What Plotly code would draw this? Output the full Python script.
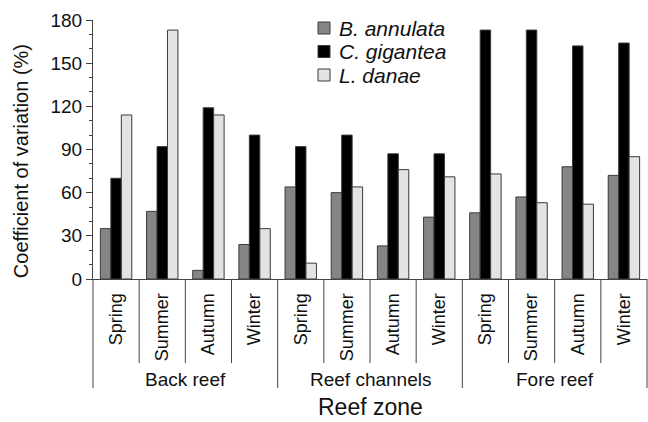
import plotly.graph_objects as go

# Reef zones and seasons (x categories)
zones = ["Back reef", "Reef channels", "Fore reef"]
seasons = ["Spring", "Summer", "Autumn", "Winter"]

# Coefficient of variation (%) per zone x season, in the order above
b_annulata = [35, 47, 6, 24, 64, 60, 23, 43, 46, 57, 78, 72]
c_gigantea = [70, 92, 119, 100, 92, 100, 87, 87, 173, 173, 162, 164]
l_danae = [114, 173, 114, 35, 11, 64, 76, 71, 73, 53, 52, 85]

species = ["B. annulata", "C. gigantea", "L. danae"]
fills = ["#858585", "#000000", "#e3e3e3"]

FONT = "Liberation Sans, Arial, Helvetica, sans-serif"
AXIS_COLOR = "#444444"
EDGE_COLOR = "#3a3a3a"

n_season = len(seasons)
positions = list(range(len(zones) * n_season))
season_labels = [s for _ in zones for s in seasons]

fig = go.Figure()
for name, vals, col in zip(species, [b_annulata, c_gigantea, l_danae], fills):
    fig.add_trace(go.Bar(
        x=positions, y=vals, name=name, showlegend=False,
        marker=dict(color=col, line=dict(color=EDGE_COLOR, width=1)),
    ))

# plot-area size (px) used to express off-axis elements in paper units
W_PLOT, H_PLOT = 554, 259
season_sep = -84 / H_PLOT
zone_sep = -109 / H_PLOT

shapes = []
# separators between seasons (short) and between zones (long)
for b in range(1, len(positions)):
    y1 = zone_sep if b % n_season == 0 else season_sep
    shapes.append(dict(type="line", xref="x", yref="paper", x0=b - 0.5, x1=b - 0.5,
                       y0=0, y1=y1, line=dict(color=AXIS_COLOR, width=1)))
for edge in (0, 1):
    shapes.append(dict(type="line", xref="x domain", yref="paper", x0=edge, x1=edge,
                       y0=0, y1=zone_sep, line=dict(color=AXIS_COLOR, width=1)))

annotations = []
for zi, z in enumerate(zones):
    centre = zi * n_season + (n_season - 1) / 2
    annotations.append(dict(x=centre, xref="x", y=-101 / H_PLOT, yref="paper",
                            text=z, showarrow=False, yanchor="middle",
                            font=dict(family=FONT, size=19, color="#111")))
annotations.append(dict(x=0.5, xref="paper", y=-128 / H_PLOT, yref="paper",
                        text="Reef zone", showarrow=False, yanchor="middle",
                        font=dict(family=FONT, size=23, color="#111")))
annotations.append(dict(x=-72 / W_PLOT, xref="paper", y=0.455, yref="paper",
                        text="Coefficient of variation (%)", textangle=-90,
                        showarrow=False, xanchor="center", yanchor="middle",
                        font=dict(family=FONT, size=20, color="#111")))

# key: filled square + italic species name, stacked top-down
key_left, key_top, key_step, key_box = 225, 251, 23.5, 12
for i, (name, col) in enumerate(zip(species, fills)):
    yc = key_top - i * key_step
    shapes.append(dict(type="rect", xref="paper", yref="paper",
                       x0=key_left / W_PLOT, x1=(key_left + key_box) / W_PLOT,
                       y0=(yc - key_box / 2) / H_PLOT, y1=(yc + key_box / 2) / H_PLOT,
                       fillcolor=col, line=dict(color=EDGE_COLOR, width=1)))
    annotations.append(dict(x=(key_left + key_box + 7) / W_PLOT, xref="paper",
                            y=yc / H_PLOT, yref="paper", text=f"<i>{name}</i>",
                            showarrow=False, xanchor="left", yanchor="middle",
                            font=dict(family=FONT, size=21, color="#111")))

fig.update_layout(
    width=648, height=422,
    margin=dict(l=93, r=1, t=20, b=143),
    paper_bgcolor="white", plot_bgcolor="white",
    barmode="group", bargap=0.32, bargroupgap=0,
    font=dict(family=FONT, color="#111"),
    showlegend=False,
    shapes=shapes, annotations=annotations,
)
fig.update_xaxes(
    range=[-0.5, len(positions) - 0.5], tickmode="array", tickvals=positions,
    ticktext=season_labels, tickangle=-90, ticks="", ticklabelstandoff=6,
    tickfont=dict(family=FONT, size=18, color="#111"),
    showline=True, linecolor=AXIS_COLOR, linewidth=1, showgrid=False, zeroline=False,
)
fig.update_yaxes(
    range=[0, 180], tick0=0, dtick=30, ticks="outside", ticklen=6, tickwidth=1,
    tickcolor=AXIS_COLOR, tickfont=dict(family=FONT, size=19, color="#111"),
    minor=dict(dtick=10, ticks="outside", ticklen=3, tickcolor=AXIS_COLOR, showgrid=False),
    showline=True, linecolor=AXIS_COLOR, linewidth=1, showgrid=False, zeroline=False,
)

fig.write_html("out.html")
